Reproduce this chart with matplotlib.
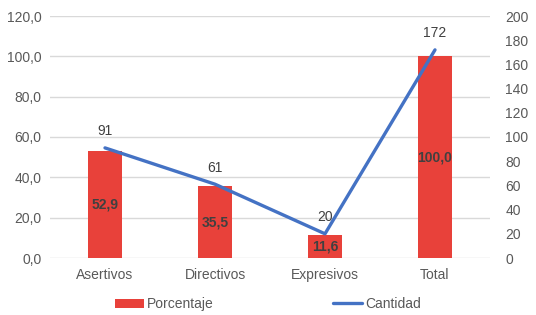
import matplotlib
matplotlib.use("Agg")
import matplotlib.pyplot as plt
from matplotlib.ticker import FuncFormatter, MultipleLocator

categories = ["Asertivos", "Directivos", "Expresivos", "Total"]
porcentaje = [52.9, 35.5, 11.6, 100.0]
cantidad = [91, 61, 20, 172]

plt.rcParams['font.family'] = ['Liberation Sans', 'DejaVu Sans']
TXT = "#595959"
RED = "#E8413A"
BLUE = "#4472C4"

fig = plt.figure(figsize=(5.36, 3.15), dpi=100)
ax = fig.add_axes([50/536, 57/315, 440/536, 242/315])
x = list(range(len(categories)))
bars = ax.bar(x, porcentaje, width=0.31, color=RED, label="Porcentaje", zorder=2)
ax.set_xlim(-0.5, 3.5)
ax.set_ylim(0, 120)
ax.yaxis.set_major_locator(MultipleLocator(20))
ax.yaxis.set_major_formatter(FuncFormatter(lambda v, p: f"{v:.1f}".replace(".", ",")))
ax.grid(axis='y', color="#D9D9D9", linewidth=1, zorder=0)
ax.set_axisbelow(True)
for s in ax.spines.values():
    s.set_visible(False)
ax.tick_params(length=0, labelsize=10, labelcolor=TXT)
ax.tick_params(axis='y', pad=6)
ax.tick_params(axis='x', pad=7)
ax.set_xticks(x)
ax.set_xticklabels(categories)
for xi, v in zip(x, porcentaje):
    ax.text(xi, v/2, f"{v:.1f}".replace(".", ","), ha='center', va='center',
            fontsize=10, fontweight='bold', color="#404040", zorder=4)

ax2 = ax.twinx()
ax2.set_ylim(0, 200)
ax2.yaxis.set_major_locator(MultipleLocator(20))
line, = ax2.plot(x, cantidad, color=BLUE, linewidth=2.4, label="Cantidad",
                 solid_capstyle='round', zorder=3)
for s in ax2.spines.values():
    s.set_visible(False)
ax2.tick_params(length=0, labelsize=10, labelcolor=TXT, pad=11)
for xi, v in zip(x, cantidad):
    ax2.annotate(f"{v}", (xi, v), xytext=(0, 12), textcoords='offset points',
                 ha='center', va='center', fontsize=10, color="#404040")

fig.legend(handles=[bars, line], labels=["Porcentaje", "Cantidad"], loc='lower center',
           bbox_to_anchor=(0.5, -0.028), ncol=2, frameon=False, fontsize=10,
           labelcolor=TXT, columnspacing=8.6, handlelength=2.1, handletextpad=0.2)

fig.savefig("out.png", dpi=100)
